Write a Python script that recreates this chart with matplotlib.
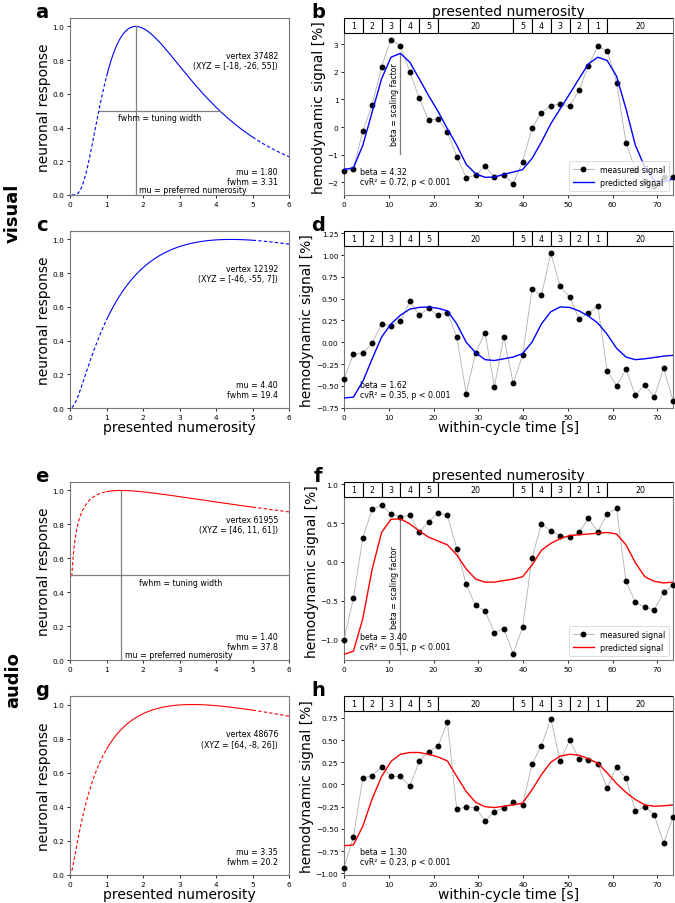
import numpy as np
import matplotlib
matplotlib.use("Agg")
import matplotlib.pyplot as plt
import matplotlib.transforms as mtransforms
from matplotlib.patches import Rectangle

# ---- tuning model parameters (printed in the panels) ----
tuning_mu = [1.80, 4.40, 1.40, 3.35]
tuning_fwhm = [3.31, 19.4, 37.8, 20.2]
vertex_ids = [37482, 12192, 61955, 48676]
vertex_xyz = ["[-18, -26, 55]", "[-46, -55, 7]", "[46, 11, 61]", "[64, -8, 26]"]

# ---- time courses (TR = 2.1 s, 36 samples) ----
TR = 2.1
n_vol = 36

meas_b = [-1.59, -1.53, -0.14, 0.81, 2.19, 3.17, 2.95, 2.01, 1.05, 0.25, 0.30, -0.19,
          -1.07, -1.83, -1.75, -1.42, -1.81, -1.75, -2.05, -1.25, -0.04, 0.52, 0.78, 0.84,
          0.75, 1.33, 2.22, 2.92, 2.77, 1.61, -0.57, -1.55, -1.95, -2.15, -1.80, -1.80]
pred_b = [-1.53, -1.48, -0.66, 0.55, 1.75, 2.53, 2.67, 2.35, 1.75, 1.14, 0.57, -0.06,
          -0.66, -1.35, -1.69, -1.82, -1.81, -1.71, -1.63, -1.54, -1.14, -0.54, 0.12, 0.66,
          1.20, 1.75, 2.29, 2.53, 2.41, 1.84, 0.66, -0.66, -1.45, -1.93, -1.99, -1.87]

meas_d = [-0.42, -0.14, -0.125, -0.01, 0.21, 0.19, 0.24, 0.47, 0.31, 0.39, 0.31, 0.34,
          0.06, -0.59, -0.12, 0.11, -0.51, 0.06, -0.47, -0.15, 0.61, 0.54, 1.02, 0.64,
          0.52, 0.27, 0.33, 0.42, -0.33, -0.50, -0.31, -0.61, -0.49, -0.63, -0.30, -0.67]
pred_d = [-0.64, -0.63, -0.45, -0.19, 0.06, 0.21, 0.31, 0.38, 0.40, 0.405, 0.39, 0.36,
          0.21, 0.0, -0.12, -0.20, -0.21, -0.19, -0.17, -0.13, 0.0, 0.21, 0.35, 0.405,
          0.40, 0.36, 0.30, 0.22, 0.09, -0.07, -0.17, -0.20, -0.19, -0.175, -0.16, -0.15]

meas_f = [-1.0, -0.47, 0.31, 0.68, 0.73, 0.62, 0.58, 0.60, 0.38, 0.52, 0.63, 0.60,
          0.17, -0.29, -0.56, -0.63, -0.91, -0.86, -1.18, -0.84, 0.05, 0.49, 0.40, 0.34,
          0.32, 0.38, 0.56, 0.39, 0.62, 0.69, -0.25, -0.52, -0.58, -0.62, -0.39, -0.30]
pred_f = [-1.19, -1.15, -0.73, -0.09, 0.38, 0.55, 0.555, 0.49, 0.40, 0.32, 0.27, 0.22,
          0.09, -0.09, -0.22, -0.26, -0.26, -0.24, -0.22, -0.19, -0.04, 0.15, 0.24, 0.30,
          0.34, 0.35, 0.36, 0.37, 0.38, 0.36, 0.22, -0.01, -0.19, -0.25, -0.27, -0.26]

meas_h = [-0.94, -0.59, 0.07, 0.10, 0.20, 0.095, 0.09, -0.02, 0.26, 0.37, 0.43, 0.70,
          -0.28, -0.25, -0.26, -0.41, -0.31, -0.26, -0.20, -0.23, 0.23, 0.435, 0.74, 0.26,
          0.50, 0.29, 0.28, 0.235, -0.04, 0.20, 0.07, -0.30, -0.25, -0.34, -0.66, -0.37]
pred_h = [-0.69, -0.68, -0.47, -0.16, 0.09, 0.26, 0.34, 0.36, 0.36, 0.34, 0.31, 0.265,
          0.09, -0.08, -0.20, -0.25, -0.26, -0.245, -0.23, -0.21, -0.06, 0.11, 0.25, 0.32,
          0.34, 0.33, 0.29, 0.24, 0.13, 0.01, -0.09, -0.17, -0.23, -0.245, -0.24, -0.23]

betas = ["4.32", "1.62", "3.40", "1.30"]
cv_r2 = ["0.72", "0.35", "0.51", "0.23"]
# scaling-factor bar (bottom, top) for panels b and f
beta_bar_b = (-0.97, 2.67)
beta_bar_f = (-1.19, 0.555)

# stimulus ribbon
block_labels = ["1", "2", "3", "4", "5", "20", "5", "4", "3", "2", "1", "20"]
block_edges = [0, 4.2, 8.4, 12.6, 16.8, 21.0, 37.8, 42.0, 46.2, 50.4, 54.6, 58.8, 75.6]

TXT = 5.7
TICK = 5.3
LAB = 10

fig = plt.figure(figsize=(6.75, 9.04), dpi=100)
W, H = 675.0, 904.0


def add_ax(left_px, top_px, right_px, bottom_px):
    return fig.add_axes([left_px / W, 1 - bottom_px / H,
                         (right_px - left_px) / W, (bottom_px - top_px) / H])


def style(ax):
    ax.tick_params(labelsize=TICK, length=2.5, width=0.6, pad=1.5)
    for s in ax.spines.values():
        s.set_linewidth(0.8)
        s.set_color("#777777")


def draw_tuning(ax, mu, fwhm, color, vid, xyz, guides, xlabel):
    x = np.linspace(0.05, 6, 600)
    sigma = np.arcsinh(fwhm / (2 * mu)) / np.sqrt(2 * np.log(2))
    y = np.exp(-(np.log(x) - np.log(mu)) ** 2 / (2 * sigma ** 2))
    inside = (x >= 1) & (x <= 5)
    ax.plot(x[inside], y[inside], color=color, lw=0.8)
    ax.plot(x[x <= 1], y[x <= 1], color=color, lw=0.8, ls=(0, (3, 2)))
    ax.plot(x[x >= 5], y[x >= 5], color=color, lw=0.8, ls=(0, (3, 2)))
    if guides:
        k = np.arcsinh(fwhm / (2 * mu))
        lo, hi = mu * np.exp(-k), min(mu * np.exp(k), 6)
        ax.plot([mu, mu], [0, 1], color="grey", lw=0.9)
        ax.plot([lo, hi], [0.5, 0.5], color="grey", lw=0.9)
        ax.text((lo + hi) / 2, 0.485, "fwhm = tuning width", ha="center", va="top",
                fontsize=TXT)
        ax.text(mu + 0.1, 0.004, "mu = preferred numerosity", ha="left", va="bottom",
                fontsize=TXT)
    ax.text(0.95, 0.815, "vertex %d\n(XYZ = %s)" % (vid, xyz), transform=ax.transAxes,
            ha="right", va="top", fontsize=TXT)
    fw = ("%.2f" % fwhm) if fwhm < 10 else ("%.1f" % fwhm)
    ax.text(0.95, 0.05, "mu = %.2f\nfwhm = %s" % (mu, fw),
            transform=ax.transAxes, ha="right", va="bottom", fontsize=TXT)
    ax.set_xlim(0, 6)
    ax.set_ylim(0, 1.05)
    ax.set_yticks([0, 0.2, 0.4, 0.6, 0.8, 1.0])
    ax.set_ylabel("neuronal response", fontsize=LAB, labelpad=1)
    if xlabel:
        ax.set_xlabel("presented numerosity", fontsize=LAB, labelpad=0)
    style(ax)


def draw_ribbon(ax, frac=0.083):
    trans = mtransforms.blended_transform_factory(ax.transData, ax.transAxes)
    xmax = ax.get_xlim()[1]
    for i, lab in enumerate(block_labels):
        x0, x1 = block_edges[i], block_edges[i + 1]
        ax.add_patch(Rectangle((x0, 1 - frac), x1 - x0, frac, transform=trans,
                               facecolor="white", edgecolor="black", lw=0.8, zorder=5,
                               clip_on=True))
        ax.text((x0 + min(x1, xmax)) / 2, 1 - frac / 2, lab, transform=trans,
                ha="center", va="center", fontsize=TXT, zorder=6)


def draw_timecourse(ax, meas, pred, color, ylim, beta, r2, bar, legend, title, xlabel):
    t = np.arange(n_vol) * TR
    ax.plot(t, meas, color="#b0b0b0", lw=0.6, marker="o", ms=3.2, mfc="black",
            mec="black", label="measured signal", clip_on=False, zorder=3)
    ax.plot(t, pred, color=color, lw=1.0, label="predicted signal", zorder=4)
    ax.set_xlim(0, t[-1])
    ax.set_ylim(*ylim)
    if bar is not None:
        ax.plot([12.6, 12.6], list(bar), color="grey", lw=0.9)
        ax.text(12.3, (bar[0] + bar[1]) / 2, "beta = scaling factor", rotation=90,
                ha="right", va="center", fontsize=TXT)
    ax.text(0.05, 0.05, "beta = %s\ncvR\u00b2 = %s, p < 0.001" % (beta, r2),
            transform=ax.transAxes, ha="left", va="bottom", fontsize=TXT)
    if legend:
        leg = ax.legend(loc="lower right", fontsize=TXT, handlelength=2.6,
                        borderpad=0.5, labelspacing=0.5, fancybox=True)
        leg.get_frame().set_linewidth(0.6)
    draw_ribbon(ax)
    ax.set_ylabel("hemodynamic signal [%]", fontsize=LAB, labelpad=1)
    if title:
        ax.set_title("presented numerosity", fontsize=LAB, pad=1)
    if xlabel:
        ax.set_xlabel("within-cycle time [s]", fontsize=LAB, labelpad=0)
    style(ax)


rows = [(19, 196), (232, 409), (483, 661), (697, 876)]
left_axes = [add_ax(70, r[0], 289, r[1]) for r in rows]
right_axes = [add_ax(344, r[0], 673, r[1]) for r in rows]

draw_tuning(left_axes[0], tuning_mu[0], tuning_fwhm[0], "blue", vertex_ids[0], vertex_xyz[0], True, False)
draw_tuning(left_axes[1], tuning_mu[1], tuning_fwhm[1], "blue", vertex_ids[1], vertex_xyz[1], False, True)
draw_tuning(left_axes[2], tuning_mu[2], tuning_fwhm[2], "red", vertex_ids[2], vertex_xyz[2], True, False)
draw_tuning(left_axes[3], tuning_mu[3], tuning_fwhm[3], "red", vertex_ids[3], vertex_xyz[3], False, True)

draw_timecourse(right_axes[0], meas_b, pred_b, "blue", (-2.46, 3.95), betas[0], cv_r2[0],
                beta_bar_b, True, True, False)
draw_timecourse(right_axes[1], meas_d, pred_d, "blue", (-0.755, 1.277), betas[1], cv_r2[1],
                None, False, False, True)
draw_timecourse(right_axes[2], meas_f, pred_f, "red", (-1.263, 1.03), betas[2], cv_r2[2],
                beta_bar_f, True, True, False)
draw_timecourse(right_axes[3], meas_h, pred_h, "red", (-1.019, 0.996), betas[3], cv_r2[3],
                None, False, False, True)

# panel letters
letters = ["a", "b", "c", "d", "e", "f", "g", "h"]
for i, r in enumerate(rows):
    fig.text(42 / W, 1 - (r[0] - 1) / H, letters[2 * i], fontsize=14, fontweight="bold",
             ha="center", va="baseline")
    fig.text(318 / W, 1 - (r[0] - 1) / H, letters[2 * i + 1], fontsize=14, fontweight="bold",
             ha="center", va="baseline")

fig.text(13 / W, 1 - 213 / H, "visual", rotation=90, fontsize=13, fontweight="bold",
         ha="center", va="center")
fig.text(13 / W, 1 - 680 / H, "audio", rotation=90, fontsize=13, fontweight="bold",
         ha="center", va="center")

fig.savefig("out.png", dpi=100)
